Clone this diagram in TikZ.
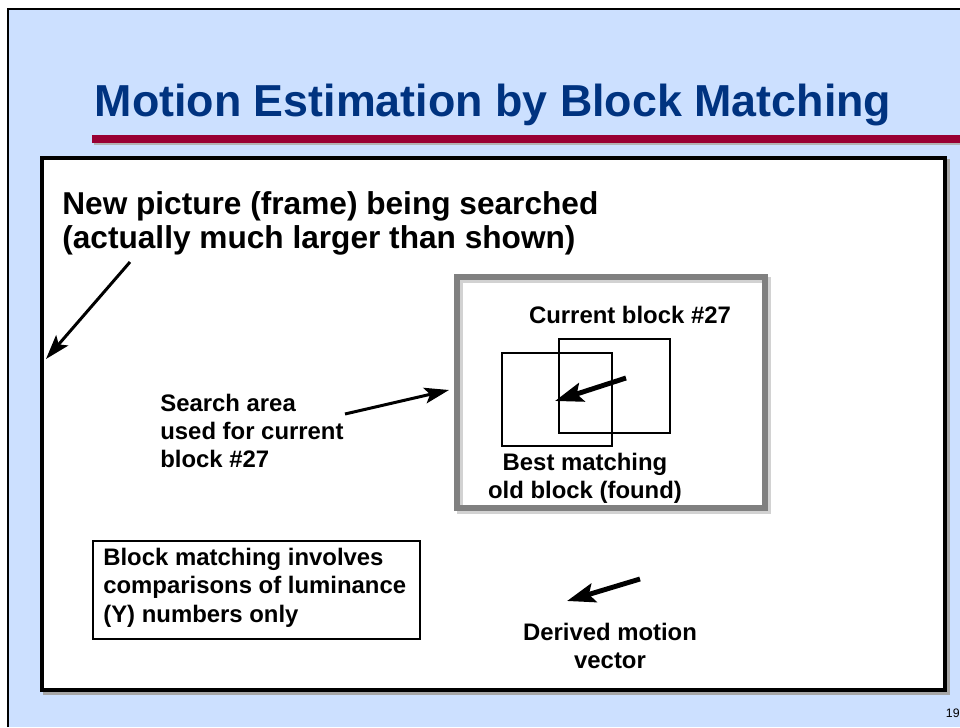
\documentclass[tikz,border=0pt]{standalone}
\usepackage{fontspec}
\setmainfont{Liberation Sans}
\usetikzlibrary{positioning, arrows.meta}
\definecolor{slideblue}{RGB}{204,224,255}
\definecolor{titleblue}{RGB}{0,51,128}
\definecolor{barred}{RGB}{153,0,51}

\begin{document}
\begin{tikzpicture}[x=0.02cm, y=-0.02cm,
  txt/.style={font=\bfseries\fontsize{13.6}{15.8}\selectfont, inner sep=0pt},
  ptr/.style={-{Stealth[length=14pt,width=9pt,inset=3pt]}, line width=1.7pt},
  mv/.style={-{Stealth[length=16pt,width=11pt,inset=3pt]}, line width=2.8pt},
  blk/.style={line width=1.1pt}]
  \useasboundingbox (0,0) rectangle (960,727);
  \fill[white] (0,0) rectangle (960,727);
  \fill[slideblue] (8,9) rectangle (960,727);
  \draw[line width=1.1pt] (8,727) -- (8,9) -- (960,9);

  \node[anchor=base, text=titleblue, inner sep=0pt,
        font=\bfseries\fontsize{25.5}{30}\selectfont] (title) at (493,116)
        {Motion Estimation by Block Matching};
  \fill[gray!60] (94,137) rectangle (960,145);
  \fill[barred] (92,135) rectangle (960,143);

  \draw[gray!70, line width=2.8pt] (45,161) rectangle (948,693);
  \draw[line width=2.8pt, fill=white] (42,158) rectangle (945,690);

  \node[txt, anchor=base west, align=left,
        font=\bfseries\fontsize{18}{19.3}\selectfont] (newpic) at (62,248)
        {New picture (frame) being searched\\(actually much larger than shown)};
  \coordinate (picfrom) at (130,262);
  \coordinate (picedge) at (46,359);
  \draw[ptr] (picfrom) -- (picedge);

  \draw[gray!35, line width=3.4pt] (460,280) rectangle (768,511);
  \draw[gray, line width=3.4pt] (457,277) rectangle (765,508);
  \draw[blk] (559,339) rectangle (670,433);
  \draw[blk] (502,353) rectangle (612,446);
  \coordinate (curc) at (626,378);
  \coordinate (oldc) at (555,401);
  \draw[mv] (curc) -- (oldc);

  \node[txt, anchor=base] (cur) at (630,323) {Current block \#27};
  \node[txt, anchor=base, align=center] (best) at (585,498)
        {Best matching\\old block (found)};

  \node[txt, anchor=base west, align=left] (search) at (160,467)
        {Search area\\used for current\\block \#27};
  \coordinate (srchfrom) at (345,414);
  \coordinate (srchedge) at (449,390);
  \draw[ptr] (srchfrom) -- (srchedge);

  \draw[line width=1.4pt] (93,541) rectangle (420,639);
  \node[txt, anchor=base west, align=left,
        font=\bfseries\fontsize{13.6}{16.2}\selectfont] (note) at (103,622)
        {Block matching involves\\comparisons of luminance\\(Y) numbers only};

  \coordinate (vecfrom) at (640,579);
  \coordinate (vecto) at (567,601);
  \draw[mv] (vecfrom) -- (vecto);
  \node[txt, anchor=base, align=center] (derived) at (610,668)
        {Derived motion\\vector};

  \node[anchor=base east, inner sep=0pt, font=\fontsize{7}{8}\selectfont]
        (pageno) at (960,717) {19};
\end{tikzpicture}
\end{document}
